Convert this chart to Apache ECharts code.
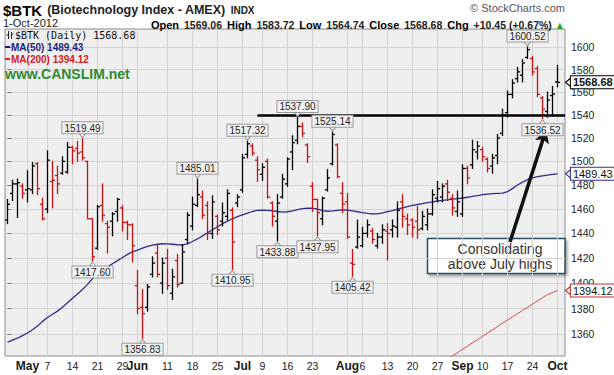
<!DOCTYPE html>
<html>
<head>
<meta charset="utf-8">
<script src="https://cdn.jsdelivr.net/npm/echarts@6.0.0/dist/echarts.min.js"></script>
<style>
html,body{margin:0;padding:0;background:#fff;}
#chart{width:614px;height:375px;}
</style>
</head>
<body>
<div id="chart"></div>
<script>
// ---------------- DATA ----------------
const dates = [
'2012-04-25','2012-04-26','2012-04-27','2012-04-30',
'2012-05-01','2012-05-02','2012-05-03','2012-05-04','2012-05-07','2012-05-08','2012-05-09','2012-05-10','2012-05-11','2012-05-14','2012-05-15','2012-05-16','2012-05-17','2012-05-18','2012-05-21','2012-05-22','2012-05-23','2012-05-24','2012-05-25','2012-05-29','2012-05-30','2012-05-31',
'2012-06-01','2012-06-04','2012-06-05','2012-06-06','2012-06-07','2012-06-08','2012-06-11','2012-06-12','2012-06-13','2012-06-14','2012-06-15','2012-06-18','2012-06-19','2012-06-20','2012-06-21','2012-06-22','2012-06-25','2012-06-26','2012-06-27','2012-06-28','2012-06-29',
'2012-07-02','2012-07-03','2012-07-05','2012-07-06','2012-07-09','2012-07-10','2012-07-11','2012-07-12','2012-07-13','2012-07-16','2012-07-17','2012-07-18','2012-07-19','2012-07-20','2012-07-23','2012-07-24','2012-07-25','2012-07-26','2012-07-27','2012-07-30','2012-07-31',
'2012-08-01','2012-08-02','2012-08-03','2012-08-06','2012-08-07','2012-08-08','2012-08-09','2012-08-10','2012-08-13','2012-08-14','2012-08-15','2012-08-16','2012-08-17','2012-08-20','2012-08-21','2012-08-22','2012-08-23','2012-08-24','2012-08-27','2012-08-28','2012-08-29','2012-08-30','2012-08-31',
'2012-09-04','2012-09-05','2012-09-06','2012-09-07','2012-09-10','2012-09-11','2012-09-12','2012-09-13','2012-09-14','2012-09-17','2012-09-18','2012-09-19','2012-09-20','2012-09-21','2012-09-24','2012-09-25','2012-09-26','2012-09-27','2012-09-28',
'2012-10-01'];

const opens = [1451,1473,1481,1479,1476,1476,1498,1464,1460,1483,1488,1490,1491,1512,1511,1508,1500,1452,1428,1463,1448,1450,1458,1461,1449,1447,
1398,1381,1381,1407,1424,1400,1420,1392,1418,1400,1435,1446,1463,1470,1463,1440,1454,1450,1454,1459,1465,
1476,1506,1513,1501,1489,1500,1465,1450,1470,1481,1508,1518,1530,1514,1479,1468,1452,1476,1498,1514,1473,
1466,1416,1429,1430,1440,1442,1430,1437,1442,1443,1445,1466,1452,1451,1450,1444,1447,1456,1469,1470,1481,1469,1458,
1456,1494,1497,1508,1510,1502,1496,1505,1524,1542,1558,1572,1575,1591,1590,1581,1555,1543,1557,
1569.06];
const highs = [1468,1484,1485,1481,1492,1499,1499,1469,1509,1500,1496,1504,1516,1513,1517,1519.49,1500,1452,1463,1481,1450,1457,1469,1463,1450,1448,
1410,1395,1399,1421,1431,1420,1427,1411,1423,1431,1457,1470,1485.01,1475,1466,1471,1455,1465,1476,1461,1472,
1506,1517.32,1515,1504,1498,1502,1466,1472,1489,1503,1522,1537.90,1533,1515,1482,1468,1470,1493,1525.14,1515,1482,
1473,1427,1451,1445,1451,1444,1440,1447,1448,1451,1466,1472,1456,1452,1462,1458,1460,1476,1483,1481,1484,1472,1475,
1497,1496,1518,1517,1512,1503,1506,1523,1545,1561,1571,1582,1589,1600.52,1592,1583,1556,1560,1565,
1583.72];
const lows = [1448,1467,1453,1469,1466,1473,1472,1451,1457,1461,1473,1489,1490,1498,1500,1501,1452,1417.60,1427,1450,1424,1438,1450,1442,1435,1417,
1376,1356.83,1378,1405,1405,1392,1395,1387,1397,1400,1432,1443,1462,1452,1435,1436,1439,1446,1451,1410.95,1462,
1474,1503,1505,1483,1484,1469,1446,1433.88,1469,1479,1493,1515,1521,1499,1458,1437.95,1447,1475,1497,1486,1457,
1436,1405.42,1428,1429,1437,1432,1428,1432,1418.5,1437,1437,1445,1439,1437,1436,1443,1443,1455,1466,1466,1467,1455,1454,
1454,1481,1494,1502,1500,1491,1490,1498,1522,1538,1555,1569,1569,1590,1575,1556,1536.52,1538,1540,
1564.74];
const closes = [1464,1481,1482,1473,1477,1496,1477,1452,1501,1484,1481,1500,1512,1509,1507,1503,1452,1421,1462,1455,1445,1456,1468,1449,1447,1430,
1380,1376,1397,1416,1407,1416,1398,1405,1399,1425,1455,1464,1472,1455,1440,1466,1443,1457,1473,1433,1470,
1503,1515,1507,1493,1495,1470,1454,1465,1485,1502,1516,1530,1524,1504,1468,1457,1469,1486,1523,1487,1464,
1437,1415,1437,1440,1447,1435,1437,1443,1440,1446,1459,1454,1447,1445,1443,1454,1456,1472,1477,1479,1474,1461,1466,
1494,1486,1510,1513,1504,1494,1503,1520,1540,1558,1568,1578,1586,1598,1578,1558,1545,1553,1558.23,
1568.68];

const ma50 = [1354,1355.5,1357,1359,1361,1363.5,1366.5,1370,1373,1375.5,1378,1381,1384.5,1388,1391.5,1395,1399,1403.5,1407.5,1410.5,1413,1415.5,1418,1420.5,1423,1425,
1426.5,1428,1429.5,1430.5,1431.2,1431.6,1431.5,1431.2,1430.8,1430.6,1431.5,1433.4,1435.5,1438,1440.5,1443,1445.5,1448,1450,1452,1453.7,
1455.2,1456.6,1458,1459,1459.2,1459,1458.6,1458,1457.5,1457.8,1458.5,1459.5,1460.3,1460.8,1460.7,1460,1458.8,1458.2,1458.5,1459,1459.3,
1459.2,1458.5,1457.8,1457,1456.4,1456,1456,1456.8,1457.8,1458.8,1460,1461,1462,1463,1463.8,1464.6,1465.3,1466,1466.7,1467.2,1467.7,1468.2,1468.7,
1469.2,1469.8,1470.5,1471.2,1472,1472.5,1472.8,1473,1473.2,1474.5,1477,1480,1482.5,1484.5,1486,1487,1487.8,1488.4,1489,
1489.43];

const ma200Start = '2012-08-29';
const ma200 = [1341,1343.5,1346,1348.5,1351,1353.5,1356,1358.5,1361,1363.5,1366,1368.5,1371,1373.5,1376,1378.5,1381,1383.5,1386,1388.5,1391,1392.6,1394.12];

const yTicks = [1360,1380,1400,1420,1440,1460,1480,1500,1520,1540,1560,1580,1600];
const xTickDates = ['2012-05-01','2012-05-07','2012-05-14','2012-05-21','2012-05-29','2012-06-01','2012-06-11','2012-06-18','2012-06-25',
  '2012-07-02','2012-07-09','2012-07-16','2012-07-23','2012-08-01','2012-08-06','2012-08-13','2012-08-20','2012-08-27',
  '2012-09-04','2012-09-10','2012-09-17','2012-09-24','2012-10-01'];
const monthNames = ['Jan','Feb','Mar','Apr','May','Jun','Jul','Aug','Sep','Oct','Nov','Dec'];

const calloutDates = ['2012-05-16','2012-05-18','2012-06-04','2012-06-19','2012-06-28','2012-07-03','2012-07-12','2012-07-18','2012-07-24','2012-07-27','2012-08-02','2012-09-21','2012-09-26'];
const calloutSides = ['high','low','low','high','low','high','low','high','low','high','low','high','low'];

const resistanceLevel = 1540;
const resistanceFrom = '2012-07-06';
const arrowStart = [100.5, 1433];   // annotation arrow, in (bar index, price)
const arrowEnd = [107.7, 1527];
const noteLines = ['Consolidating', 'above July highs'];

// ---------------- CHART ----------------
const FONT = 'Liberation Sans, Arial, sans-serif';
const N = dates.length;
const last = N - 1;
const chg = closes[last] - closes[last - 1];
const chgPct = chg / closes[last - 1] * 100;

const ohlc = dates.map((d, i) => [i, opens[i], highs[i], lows[i], closes[i]]);
const ma50Data = ma50.map((v, i) => [i, v]);
const s200 = dates.indexOf(ma200Start);
const ma200Data = ma200.map((v, k) => [s200 + k, v]);
const xTickIdx = xTickDates.map(d => dates.indexOf(d));

function renderOHLC(params, api) {
  const i = api.value(0);
  const o = api.coord([i, api.value(1)]);
  const h = api.coord([i, api.value(2)]);
  const l = api.coord([i, api.value(3)]);
  const c = api.coord([i, api.value(4)]);
  const k = params.dataIndex;
  const up = k === 0 || closes[k] >= closes[k - 1];
  const st = { stroke: up ? '#000000' : '#cc1111', lineWidth: 1.3 };
  const t = 2.6;
  return { type: 'group', children: [
    { type: 'line', shape: { x1: h[0], y1: h[1] - 0.5, x2: l[0], y2: l[1] + 0.5 }, style: st },
    { type: 'line', shape: { x1: o[0] - t, y1: o[1], x2: o[0], y2: o[1] }, style: st },
    { type: 'line', shape: { x1: c[0], y1: c[1], x2: c[0] + t, y2: c[1] }, style: st }
  ]};
}

const callouts = calloutDates.map((d, k) => {
  const i = dates.indexOf(d);
  const hi = calloutSides[k] === 'high';
  const v = hi ? highs[i] : lows[i];
  return {
    coord: [i, v], value: v,
    symbol: hi ? 'path://M0,0L10,0L5,7Z' : 'path://M5,0L10,7L0,7Z',
    symbolSize: [8, 5],
    symbolOffset: [0, hi ? -3.5 : 3.5],
    itemStyle: { color: '#f2f2f2', borderColor: '#9a9a9a', borderWidth: 1 },
    label: { position: hi ? 'top' : 'bottom', distance: -1 }
  };
});

function tag(v, color, bold) {
  return {
    coord: [last, v], value: v,
    symbol: 'path://M0,5L6,0L6,10Z',
    symbolSize: [6, 10],
    symbolOffset: [11, 0],
    itemStyle: { color: '#ffffff', borderColor: color, borderWidth: 1 },
    label: {
      position: 'right', distance: -1,
      backgroundColor: '#ffffff', borderColor: color, borderWidth: 1,
      padding: [1, 2, 0, 2], fontSize: 11, fontWeight: bold ? 'bold' : 'normal', color: '#111'
    }
  };
}

const chart = echarts.init(document.getElementById('chart'), null, { renderer: 'svg', width: 614, height: 375 });

const noteStyle = (txt) => ({ text: txt, fontSize: 14, fontFamily: FONT, fill: '#333',
  align: 'center', verticalAlign: 'middle', textAlign: 'center', textVerticalAlign: 'middle' });

const option = {
  animation: false,
  backgroundColor: '#ffffff',
  textStyle: { fontFamily: FONT },
  title: [
    { left: 3, top: 1, padding: 0,
      text: '{a|$BTK} {b|(Biotechnology Index - AMEX)} {c|INDX}',
      textStyle: { rich: {
        a: { fontSize: 15, fontWeight: 'bold', color: '#000', fontFamily: FONT },
        b: { fontSize: 12.5, color: '#222', fontFamily: FONT },
        c: { fontSize: 10, color: '#222', fontFamily: FONT } } } },
    { left: 3, top: 17, padding: 0, text: '1-Oct-2012',
      textStyle: { fontSize: 11, fontWeight: 'normal', color: '#222', fontFamily: FONT } },
    { right: 51, top: 16, padding: 0,
      text: '{L|Open} {v|' + opens[last].toFixed(2) + '} {L|High} {v|' + highs[last].toFixed(2) +
            '} {L|Low} {v|' + lows[last].toFixed(2) + '} {L|Close} {v|' + closes[last].toFixed(2) +
            '} {L|Chg} {v|+' + chg.toFixed(2) + ' (+' + chgPct.toFixed(2) + '%)} {g|▲}',
      textStyle: { rich: {
        L: { fontSize: 11, fontWeight: 'bold', color: '#000', fontFamily: FONT },
        v: { fontSize: 10.5, color: '#222', fontFamily: FONT },
        g: { fontSize: 8, color: '#22aa22', fontFamily: 'DejaVu Sans' } } } },
    { right: 49, top: 2, padding: 0, text: '© StockCharts.com',
      textStyle: { fontSize: 11, fontWeight: 'normal', color: '#555', fontFamily: FONT } },
    { left: 15, top: 30, padding: 0, text: '$BTK (Daily) ' + closes[last].toFixed(2),
      textStyle: { fontSize: 10, fontWeight: 'normal', color: '#111', fontFamily: 'DejaVu Sans Mono' } },
    { left: 5, top: 42, padding: 0, text: '{s|}{t|MA(50) ' + ma50[last].toFixed(2) + '}',
      textStyle: { rich: {
        s: { width: 5, height: 2, backgroundColor: '#1f1f7a' },
        t: { fontSize: 10, color: '#1f1f7a', fontFamily: FONT, padding: [0, 0, 0, 1] } } } },
    { left: 5, top: 54, padding: 0, text: '{s|}{t|MA(200) ' + ma200[ma200.length - 1].toFixed(2) + '}',
      textStyle: { rich: {
        s: { width: 5, height: 2, backgroundColor: '#e02020' },
        t: { fontSize: 10, color: '#d42020', fontFamily: FONT, padding: [0, 0, 0, 1] } } } },
    { left: 5, top: 67, padding: 0, text: 'www.CANSLIM.net',
      textStyle: { fontSize: 14, fontWeight: 'bold', color: '#2f8a2f', fontFamily: FONT } }
  ],
  graphic: [
    { type: 'group', z: 50, children: [
      { type: 'line', shape: { x1: 8.5, y1: 31, x2: 8.5, y2: 39 }, style: { stroke: '#222', lineWidth: 1 } },
      { type: 'line', shape: { x1: 6.5, y1: 35, x2: 8.5, y2: 35 }, style: { stroke: '#222', lineWidth: 1 } },
      { type: 'line', shape: { x1: 11.5, y1: 32, x2: 11.5, y2: 39 }, style: { stroke: '#222', lineWidth: 1 } },
      { type: 'line', shape: { x1: 11.5, y1: 34, x2: 13.5, y2: 34 }, style: { stroke: '#222', lineWidth: 1 } }
    ]},
    { type: 'group', z: 100, children: [
      { type: 'rect', shape: { x: 427.5, y: 238.5, width: 137.5, height: 35 },
        style: { fill: '#ffffff', stroke: '#2a5060', lineWidth: 1.5,
                 shadowBlur: 3, shadowOffsetX: 2, shadowOffsetY: 2, shadowColor: 'rgba(0,0,0,0.35)' } },
      { type: 'text', x: 500, y: 248.5, style: noteStyle(noteLines[0]) },
      { type: 'text', x: 500, y: 263.5, style: noteStyle(noteLines[1]) }
    ]}
  ],
  grid: { left: 5, right: 49, top: 29, bottom: 19, show: true, backgroundColor: '#efefef',
          borderColor: '#8a8a8a', borderWidth: 1, containLabel: false, outerBoundsMode: 'none' },
  xAxis: {
    type: 'value', min: -0.5, max: N + 0.5,
    axisLine: { show: false },
    axisTick: { show: false, customValues: xTickIdx },
    axisLabel: {
      customValues: xTickIdx, margin: 4, hideOverlap: false,
      formatter: function (val) {
        const i = Math.round(val);
        const d = dates[i];
        if (!d) return '';
        const m = d.slice(5, 7);
        const monthStart = i === 0 || dates[i - 1].slice(5, 7) !== m;
        return monthStart ? '{m|' + monthNames[+m - 1] + '}' : '{d|' + (+d.slice(8, 10)) + '}';
      },
      rich: {
        m: { fontSize: 12, fontWeight: 'bold', color: '#1a1a1a', fontFamily: FONT },
        d: { fontSize: 10.5, color: '#222', fontFamily: FONT }
      }
    },
    splitLine: { show: true, lineStyle: { color: '#d3d3d3', width: 1 } }
  },
  yAxis: {
    type: 'log', logBase: 10, position: 'right', min: 1343.4, max: 1616.8,
    axisLine: { show: false },
    axisTick: { show: true, length: 4, customValues: yTicks, lineStyle: { color: '#777' } },
    axisLabel: { customValues: yTicks, margin: 6, fontSize: 10.5, color: '#222', fontFamily: FONT,
      formatter: v => String(Math.round(v)) },
    splitLine: { show: true, lineStyle: { color: '#d3d3d3', width: 1 } }
  },
  series: [
    {
      type: 'line', name: 'MA(200)', data: ma200Data, showSymbol: false, clip: true, silent: true, z: 2,
      lineStyle: { color: '#d34848', width: 1 }
    },
    {
      type: 'line', name: 'MA(50)', data: ma50Data, showSymbol: false, clip: true, silent: true, z: 2,
      lineStyle: { color: '#2e2e8a', width: 1.3 }
    },
    {
      type: 'custom', name: '$BTK', data: ohlc, encode: { x: 0, y: [1, 2, 3, 4] },
      renderItem: renderOHLC, clip: false, silent: true, z: 3,
      markLine: {
        silent: true, symbol: ['none', 'none'], label: { show: false }, animation: false,
        data: [
          [ { coord: [dates.indexOf(resistanceFrom), resistanceLevel], lineStyle: { color: '#000', width: 2.5, type: 'solid' } },
            { coord: [N + 0.5, resistanceLevel] } ],
          [ { coord: arrowStart, symbol: 'none', lineStyle: { color: '#111', width: 3.5, type: 'solid' } },
            { coord: arrowEnd, symbol: 'arrow', symbolSize: [11, 13] } ]
        ]
      },
      markPoint: {
        silent: true, animation: false,
        label: {
          show: true, formatter: p => Number(p.value).toFixed(2),
          backgroundColor: '#f2f2f2', borderColor: '#9a9a9a', borderWidth: 1,
          padding: [1, 2, 0, 2], fontSize: 10, color: '#222', fontFamily: FONT
        },
        data: callouts.concat([
          tag(closes[last], '#000000', true),
          tag(ma50[last], '#2e2e8a', false),
          tag(ma200[ma200.length - 1], '#c03030', false)
        ])
      }
    }
  ]
};
chart.setOption(option);
</script>
</body>
</html>
